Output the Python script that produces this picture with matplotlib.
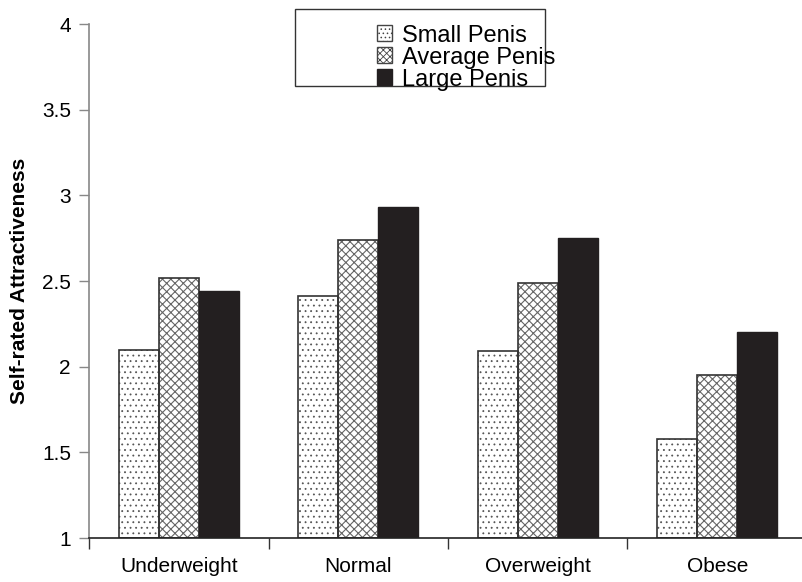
import numpy as np
import matplotlib
matplotlib.use('Agg')
import matplotlib.pyplot as plt
from matplotlib.patches import Rectangle, Patch

plt.rcParams['font.family'] = ['Liberation Sans', 'DejaVu Sans']

categories = ['Underweight', 'Normal', 'Overweight', 'Obese']
small_penis = [2.10, 2.41, 2.09, 1.58]
average_penis = [2.52, 2.74, 2.49, 1.95]
large_penis = [2.44, 2.93, 2.75, 2.20]
series_names = ['Small Penis', 'Average Penis', 'Large Penis']
y_ticks = [1, 1.5, 2, 2.5, 3, 3.5, 4]

fig = plt.figure(figsize=(8.02, 5.82), dpi=100)
ax = fig.add_axes([89 / 802, 44 / 582, 718 / 802, 514 / 582])

x = np.arange(len(categories)) + 0.5
w = 40 / 180

# hatched fills, outlines drawn separately so hatch colour can differ
plt.rcParams['hatch.linewidth'] = 0.6
ax.bar(x - w, np.array(small_penis) - 1, w, bottom=1, color='white',
       edgecolor='#555555', hatch='...', linewidth=0)
plt.rcParams['hatch.linewidth'] = 0.8
ax.bar(x, np.array(average_penis) - 1, w, bottom=1, color='white',
       edgecolor='#666666', hatch='xxxx', linewidth=0)
ax.bar(x - w, np.array(small_penis) - 1, w, bottom=1, fill=False,
       edgecolor='#333333', linewidth=1.2)
ax.bar(x, np.array(average_penis) - 1, w, bottom=1, fill=False,
       edgecolor='#333333', linewidth=1.2)
ax.bar(x + w, np.array(large_penis) - 1, w, bottom=1, color='#231f20',
       edgecolor='#231f20', linewidth=1.0)

ax.set_xlim(0, 4)
ax.set_ylim(1, 4)
ax.set_yticks(y_ticks)
ax.set_yticklabels(['1', '1.5', '2', '2.5', '3', '3.5', '4'], fontsize=15)
ax.set_xticks([0, 1, 2, 3, 4])
ax.set_xticklabels([])
ax.set_xticks(x, minor=True)
ax.set_xticklabels(categories, minor=True, fontsize=15)
ax.tick_params(axis='x', which='minor', length=0, pad=14)
ax.tick_params(axis='x', which='major', length=8, width=1, direction='out', color='#333333')
ax.tick_params(axis='y', length=7, width=1, color='#888888', pad=6)

for s in ['top', 'right']:
    ax.spines[s].set_visible(False)
ax.spines['left'].set_color('#888888')
ax.spines['left'].set_linewidth(1.2)
ax.spines['bottom'].set_color('#222222')
ax.spines['bottom'].set_linewidth(1.2)

ax.set_ylabel('Self-rated Attractiveness', fontsize=15, fontweight='bold', labelpad=9)

# legend box like the original
box = Rectangle((295 / 802, 1 - 86 / 582), 250 / 802, 77 / 582,
                transform=fig.transFigure, facecolor='white',
                edgecolor='#333333', linewidth=1.0, clip_on=False, zorder=4)
ax.add_patch(box)
plt.rcParams['hatch.linewidth'] = 0.6
handles = [Patch(facecolor='white', edgecolor='#444444', hatch='....', linewidth=1.0),
           Patch(facecolor='white', edgecolor='#444444', hatch='xxxxx', linewidth=1.0),
           Patch(facecolor='#231f20', edgecolor='#231f20', linewidth=1.0)]
leg = ax.legend(handles=handles, labels=series_names, loc='upper left',
                bbox_to_anchor=(360 / 802, 1 - 8 / 582), bbox_transform=fig.transFigure,
                frameon=False, fontsize=17, handlelength=0.65, handleheight=0.65,
                handletextpad=0.45, labelspacing=0.0, borderpad=0.2)
leg.set_zorder(5)

fig.savefig('out.png', dpi=100)
